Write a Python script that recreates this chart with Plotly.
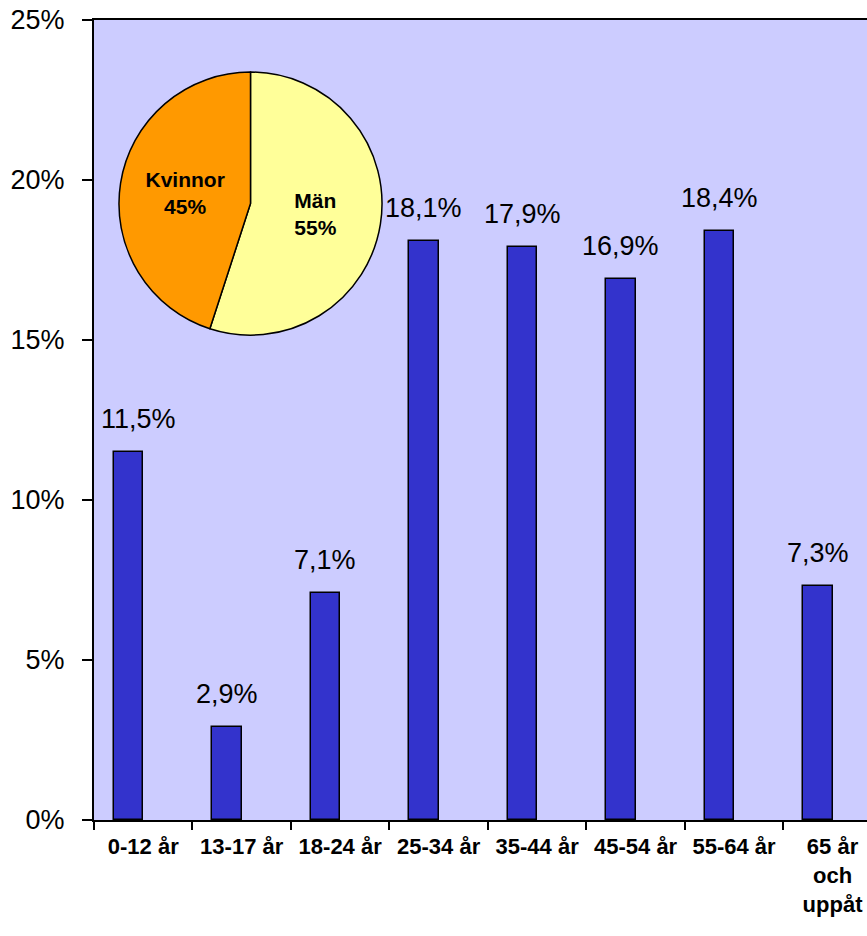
import plotly.graph_objects as go

# Age groups and share of total (percent)
age_groups = ['0-12 år', '13-17 år', '18-24 år', '25-34 år', '35-44 år',
              '45-54 år', '55-64 år', '65 år<br>och<br>uppåt']
shares = [11.5, 2.9, 7.1, 18.1, 17.9, 16.9, 18.4, 7.3]
share_labels = ['11,5%', '2,9%', '7,1%', '18,1%', '17,9%', '16,9%', '18,4%', '7,3%']

# Gender split for the inset pie
genders = ['Män', 'Kvinnor']
gender_shares = [55, 45]
gender_colors = ['#FFFF99', '#FF9900']

FONT = 'Liberation Sans, Arial, sans-serif'

fig = go.Figure()

# Bars sit in the left half of each category slot (like an Excel cluster with an empty 2nd series)
fig.add_trace(go.Bar(
    x=age_groups,
    y=[s / 100 for s in shares],
    width=0.3,
    offset=-0.3,
    marker=dict(color='#3333CC', line=dict(color='black', width=1.5)),
    showlegend=False,
    hoverinfo='skip',
))

# Value labels above the bars (index-based x on the category axis)
for i, (val, lab) in enumerate(zip(shares, share_labels)):
    fig.add_annotation(
        x=i - 0.15, y=val / 100, text=lab, showarrow=False,
        yanchor='middle', yshift=33, xshift=10 if i == 0 else 0,
        font=dict(family=FONT, size=27, color='black'),
    )

# Inset pie
fig.add_trace(go.Pie(
    labels=genders,
    values=gender_shares,
    sort=False,
    direction='clockwise',
    rotation=0,
    marker=dict(colors=gender_colors, line=dict(color='black', width=1.5)),
    texttemplate='%{label}<br>%{percent:.0%}',
    textposition='inside',
    insidetextorientation='horizontal',
    insidetextfont=dict(family=FONT, size=21, color='black', weight='bold'),
    domain=dict(x=[0.0323, 0.3726], y=[0.606, 0.935]),
    showlegend=False,
    hoverinfo='skip',
))

fig.update_layout(
    width=867,
    height=936,
    margin=dict(l=94, r=0, t=20, b=116),
    paper_bgcolor='white',
    plot_bgcolor='#CCCCFF',
    font=dict(family=FONT, color='black'),
    bargap=0,
)

fig.update_xaxes(
    type='category',
    range=[-0.5, 7.35],
    tickson='boundaries',
    ticks='outside', ticklen=8, tickwidth=2, tickcolor='black',
    showline=True, linecolor='black', linewidth=2, mirror=True,
    showgrid=False, zeroline=False,
    tickfont=dict(family=FONT, size=22, color='black', weight='bold'),
    ticklabelstandoff=6,
    ticklabeloverflow='allow',
)

fig.update_yaxes(
    range=[0, 0.25],
    dtick=0.05,
    tickformat='.0%',
    ticks='outside', ticklen=10, tickwidth=2, tickcolor='black',
    showline=True, linecolor='black', linewidth=2,
    showgrid=False, zeroline=False,
    tickfont=dict(family=FONT, size=27, color='black'),
    ticklabelstandoff=12,
    ticklabeloverflow='allow',
)

# drop the default 8px body margin so the figure fills the window exactly
fig.write_html('out.html', config={'displayModeBar': False},
               post_script="document.body.style.margin='0';")
